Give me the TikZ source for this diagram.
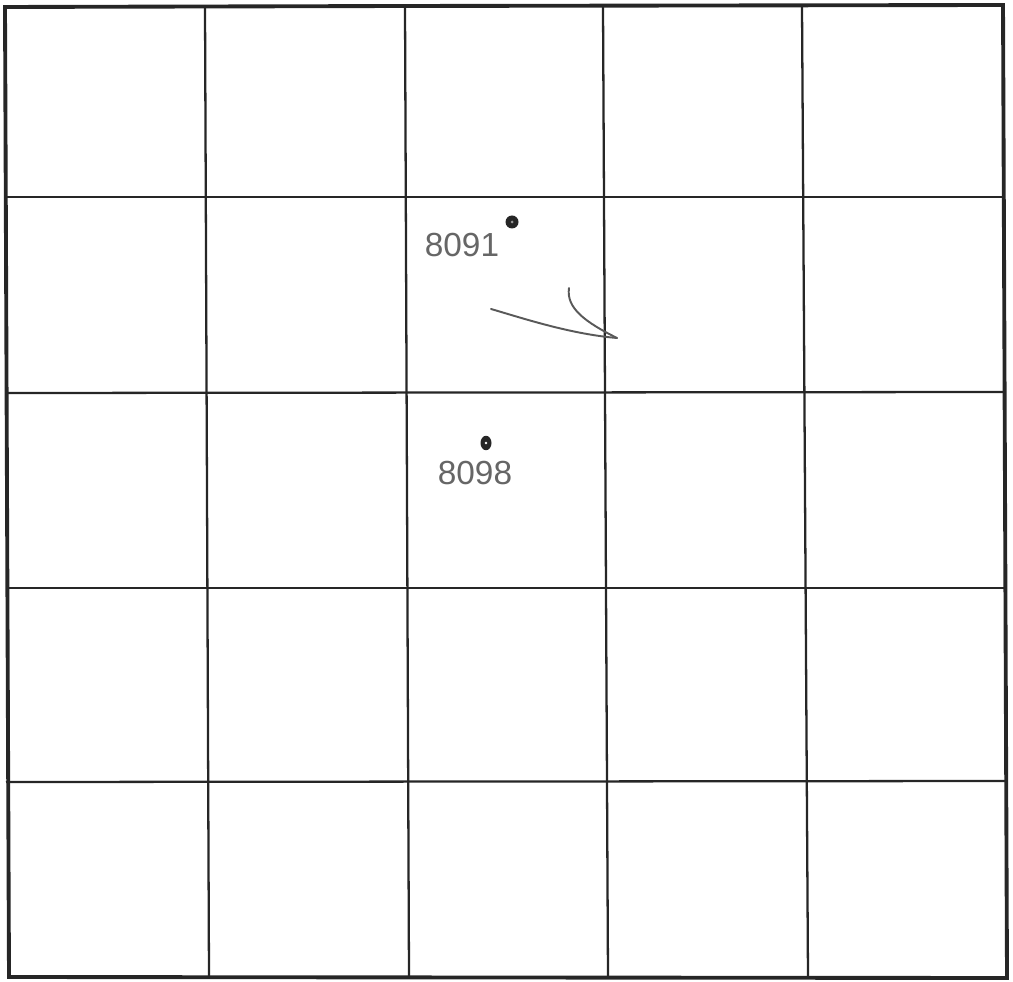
\documentclass[tikz,border=0pt]{standalone}
\usepackage{fontspec}
\setmainfont{Liberation Sans}
\usetikzlibrary{shapes.geometric}
\begin{document}
\begin{tikzpicture}[
    x=0.02cm, y=-0.02cm,
    frame/.style = {draw=black!85, line width=2.2pt, line join=miter},
    inner/.style = {draw=black!85, line width=1.3pt},
    pen/.style   = {draw=black!65, line width=1.1pt, line cap=round},
    pt/.style    = {ellipse, fill=black!85, inner sep=0pt,
                    minimum width=0.26cm, minimum height=0.26cm},
    num/.style   = {text=black!60, font=\fontsize{19}{19}\selectfont, inner sep=0pt},
  ]
    \useasboundingbox (0,0) rectangle (1013,982);

    % grid, slightly skewed like the scan
    \foreach \xt/\xb in {205/209, 405/409, 603/608, 802/808}
      \draw[inner] (\xt,7) -- (\xb,978);
    \foreach \yl/\yr in {197/197, 393/392, 588/588, 782/781}
      \draw[inner] (6,\yl) -- (1005,\yr);
    \draw[frame] (5,7) -- (405,6) -- (1003,5) -- (1007,978) -- (9,977) -- cycle;

    % points and their labels
    \node[pt] (p8091) at (512,222) {};
    \fill[black!40] (p8091.center) circle (1.5);
    \node[pt, minimum width=0.22cm, minimum height=0.29cm] (p8098) at (486,443) {};
    \fill[white] (p8098.center) circle (1.3);
    \node[num] (l8091) at (462,245) {8091};
    \node[num] (l8098) at (475,473) {8098};

    % hand drawn arrow
    \coordinate (cs) at (491,309);
    \coordinate (ce) at (617,338);
    \coordinate (hk) at (569,288);
    \draw[pen] (cs) .. controls (522,318) and (570,334) .. (ce);
    \draw[pen] (hk) .. controls (566,308) and (585,322) .. (ce);
  \end{tikzpicture}
\end{document}
